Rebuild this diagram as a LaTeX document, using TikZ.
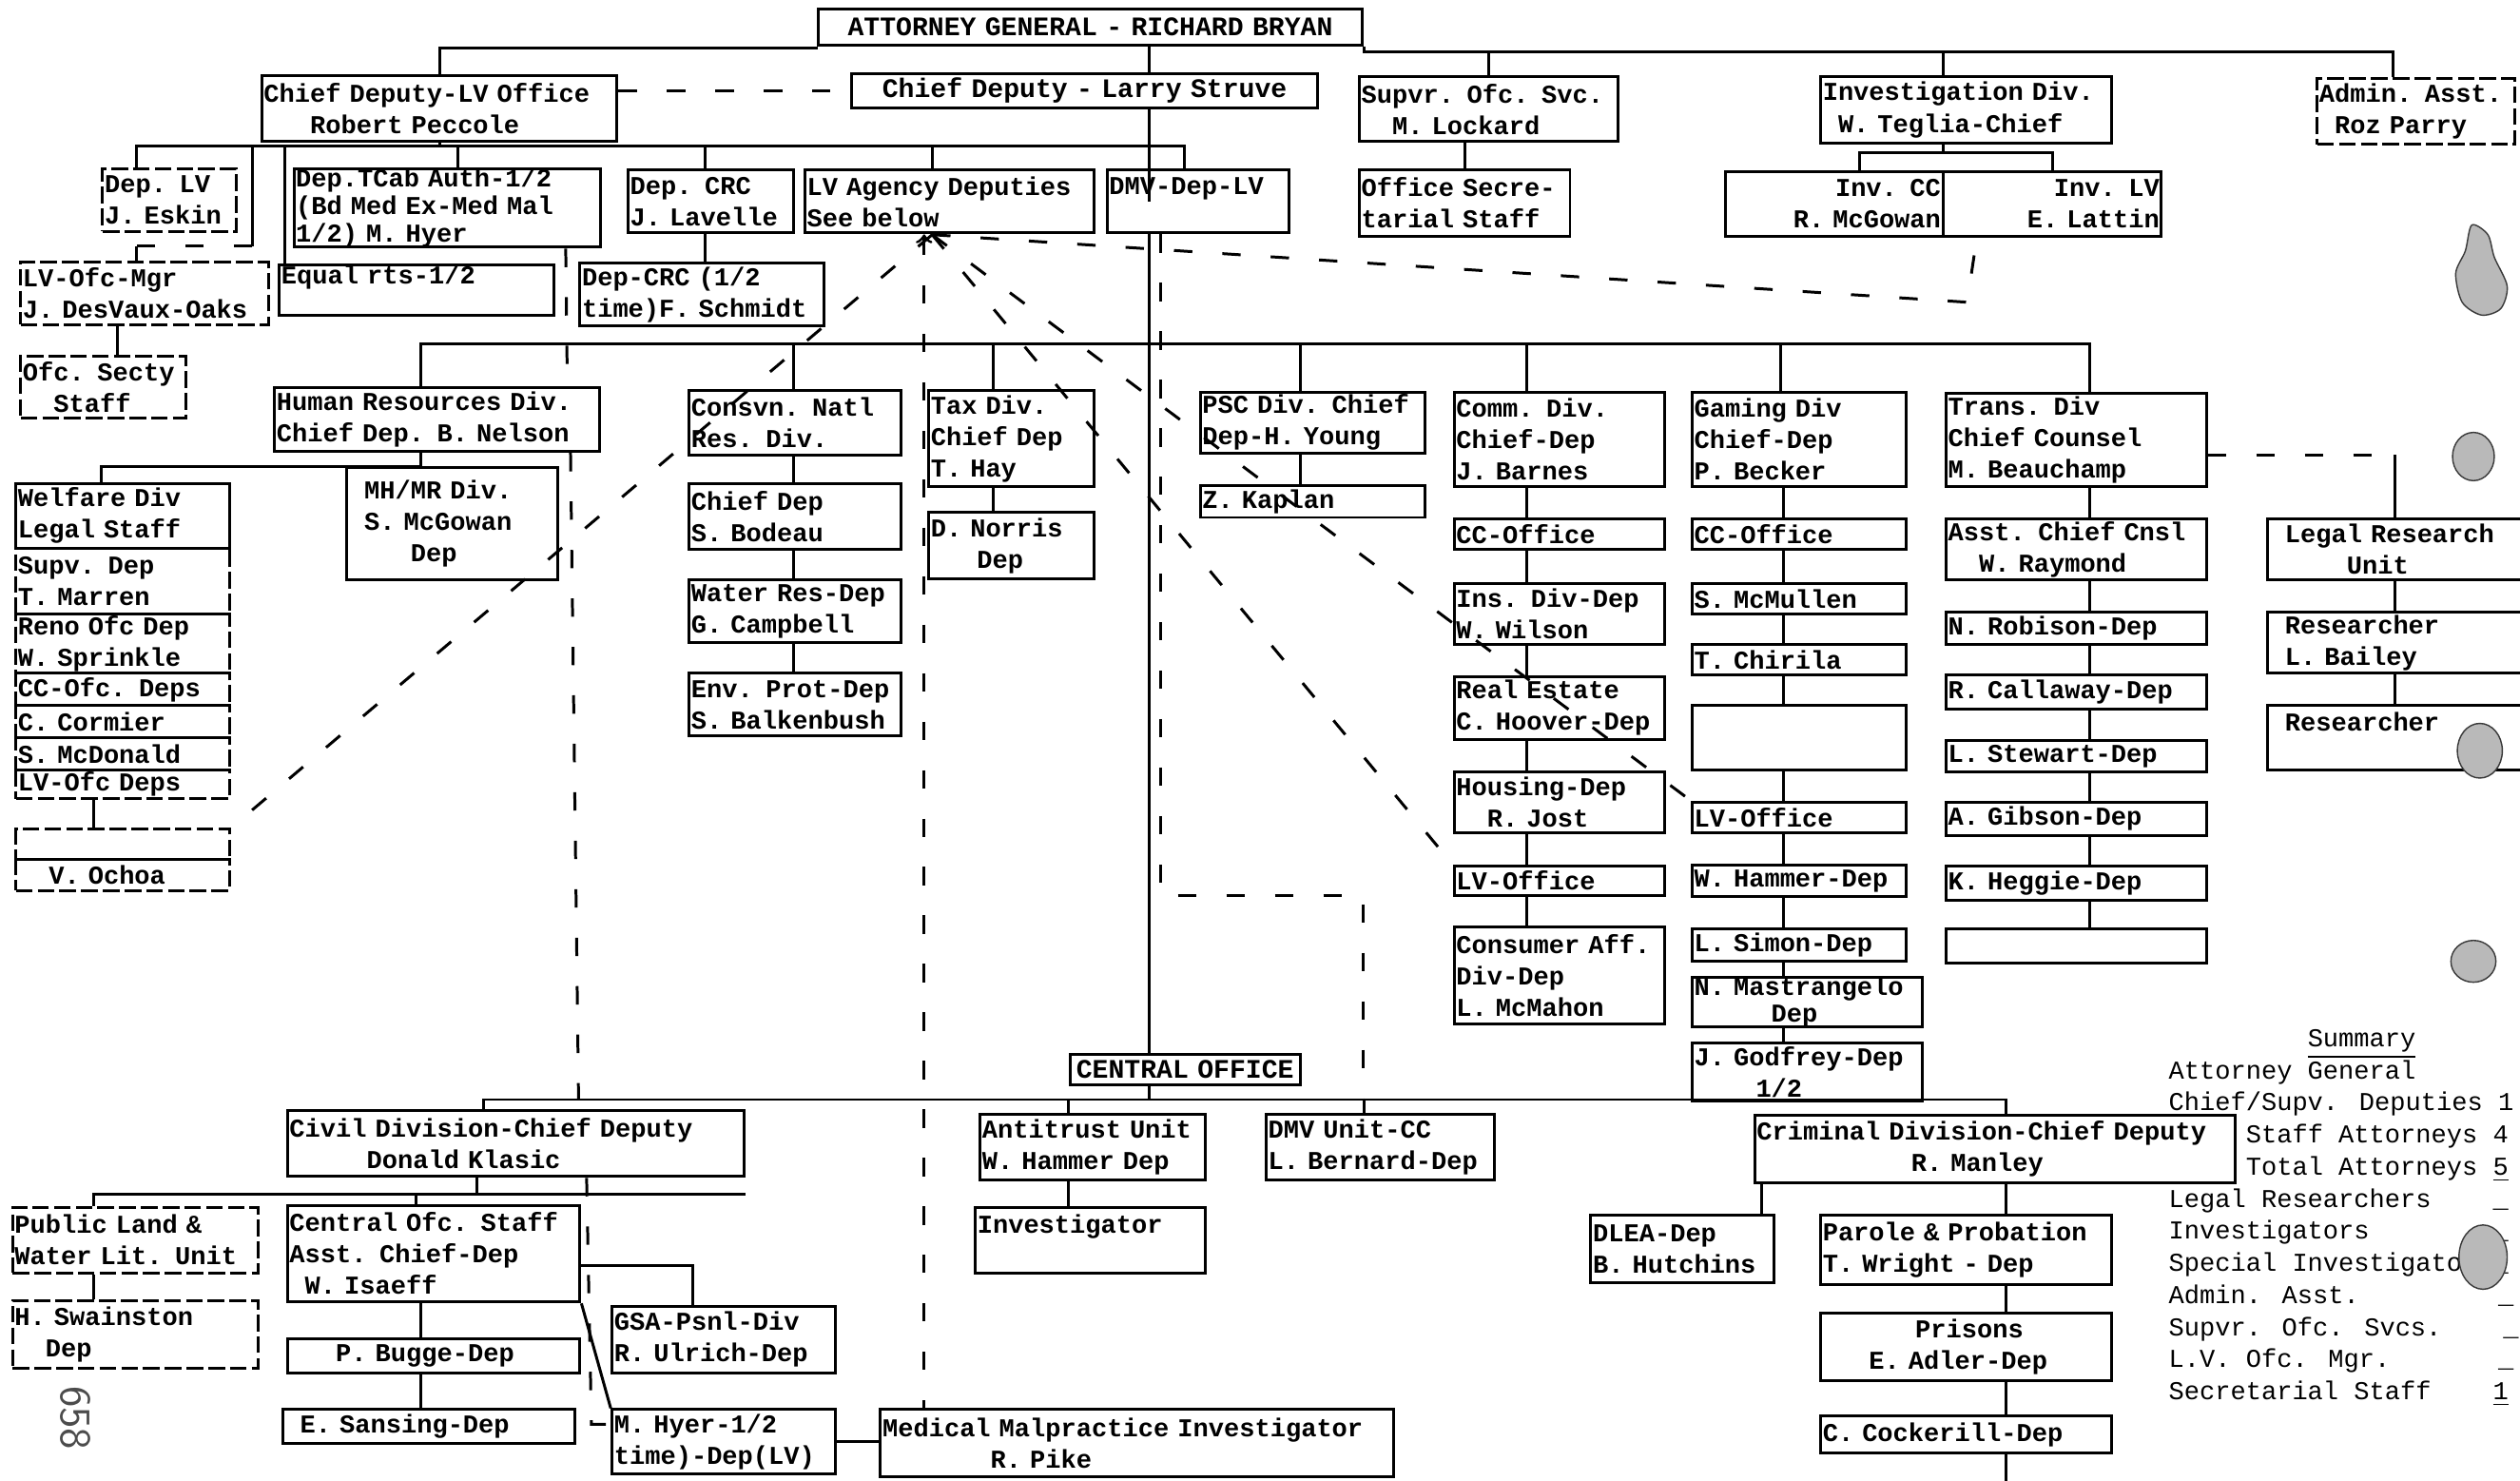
\documentclass[tikz,border=0pt]{standalone}
\usepackage{fontspec}
\newfontfamily\tw{Liberation Mono}
\newlength\pu \setlength\pu{0.169mm}
\newlength\bw \newlength\bwo \newlength\bh
\newcommand\twf{\tw\bfseries\fontsize{7.7}{9.4}\selectfont}
\newcommand\twt{\tw\bfseries\fontsize{7.7}{6.6}\selectfont}
\newcommand\twb{\tw\bfseries\fontsize{8}{9.4}\selectfont}
\newcommand\ind[1]{\hspace*{#1\dimexpr.6em\relax}}
\newcommand\ob[6][unit]{%
	\setlength\bw{#4\pu}\addtolength\bw{-1.2pt}%
	\setlength\bwo{#4\pu}\setlength\bh{#5\pu}%
	\node[#1, text width=\bw, minimum width=\bwo, minimum height=\bh] (#2) at (#3) {#6};}
\tikzstyle{unit}=[rectangle,
	draw=black,
	line width=0.85pt,
	anchor=north west,
	inner xsep=0.6pt,
	inner ysep=0pt,
	align=left,
	font=\twf]
\tikzstyle{dunit}=[unit,
	dash pattern=on 5pt off 1.5pt]
\tikzstyle{tight}=[font=\twt]
\tikzstyle{wide}=[font=\twb]
\tikzstyle{link}=[line width=0.85pt]
\tikzstyle{dlink}=[line width=0.85pt,
	dash pattern=on 5.5pt off 9pt]
\tikzstyle{blob}=[fill=gray!55,
	draw=gray!45!black,
	line width=0.4pt]

\begin{document}
\begin{tikzpicture}[x=0.169mm,y=-0.169mm]
	\path[fill=white,use as bounding box] (0,0) rectangle (1568,921);
	\coordinate (topl) at (0,30);
	\coordinate (topr) at (0,32);
	\coordinate (invbus) at (0,95);
	\coordinate (pecbus) at (0,91);
	\coordinate (divbus) at (0,214);
	\coordinate (cobus) at (0,684);
	\coordinate (civbus) at (0,743);

	% top row
	\ob[unit,wide,align=center]{ag}{508,5}{339}{22}{ATTORNEY GENERAL - RICHARD BRYAN}
	\ob[unit,wide,align=center]{struve}{529,45}{290}{21}{Chief Deputy - Larry Struve}
	\ob{pec}{162,46}{221}{41}{Chief Deputy-LV Office\\\ind{3}Robert Peccole}
	\ob{supvr}{845,47}{161}{40}{Supvr. Ofc. Svc.\\\ind{2}M. Lockard}
	\ob{ofcsec}{845,105}{131}{41}{Office Secre-\\tarial Staff}
	\ob{invest}{1132,47}{181}{41}{Investigation Div.\\\ind{1}W. Teglia-Chief}
	\ob[unit,align=right]{invcc}{1073,106}{135}{40}{Inv. CC\ind{1}\\R. McGowan\ind{1}}
	\ob[unit,align=right]{invlv}{1208,106}{136}{40}{Inv. LV\\E. Lattin\ind{1}}
	\ob[dunit]{admin}{1441,48}{123}{41}{Admin. Asst.\\\ind{1}Roz Parry}

	% Las Vegas office
	\ob[dunit]{deplv}{63,104}{83}{39}{Dep. LV\\J. Eskin}
	\ob[dunit]{lvmgr}{12,162}{154}{39}{LV-Ofc-Mgr\\J. DesVaux-Oaks}
	\ob[dunit]{ofcsecty}{12,221}{103}{38}{Ofc. Secty\\\ind{2}Staff}
	\ob[unit,tight]{tcab}{182,104}{191}{47}{Dep.TCab Auth-1/2\\(Bd Med Ex-Med Mal\\1/2) M. Hyer}
	\ob{equal}{173,164}{171}{31}{Equal rts-1/2\\\mbox{}}
	\ob{depcrc}{390,105}{103}{39}{Dep. CRC\\J. Lavelle}
	\ob{schmidt}{360,163}{152}{39}{Dep-CRC (1/2\\time)F. Schmidt}
	\ob{lvagency}{500,105}{180}{39}{LV Agency Deputies\\See below}
	\ob{dmvlv}{688,105}{113}{39}{DMV-Dep-LV\\\mbox{}}

	% divisions
	\ob{hr}{170,240}{202}{40}{Human Resources Div.\\Chief Dep. B. Nelson}
	\ob{mhmr}{215,290}{131}{70}{\ind{1}MH/MR Div.\\\ind{1}S. McGowan\\\ind{4}Dep}
	\ob{wf1}{9,300}{133}{40}{Welfare Div\\Legal Staff}
	\ob[dunit]{wf2}{9,340}{133}{41}{Supv. Dep\\T. Marren}
	\ob[dunit]{wf3}{9,381}{133}{37}{Reno Ofc Dep\\W. Sprinkle}
	\ob[dunit]{wf4}{9,418}{133}{20}{CC-Ofc. Deps}
	\ob[dunit]{wf5}{9,438}{133}{20}{C. Cormier}
	\ob[dunit]{wf6}{9,458}{133}{20}{S. McDonald}
	\ob[dunit]{wf7}{9,478}{133}{18}{LV-Ofc Deps}
	\ob[dunit]{ochoa}{9,515}{133}{19}{}
	\ob[dunit]{ochoab}{9,534}{133}{19}{\ind{2}V. Ochoa}

	\ob{consvn}{428,242}{132}{40}{Consvn. Natl\\Res. Div.}
	\ob{bodeau}{428,300}{132}{41}{Chief Dep\\S. Bodeau}
	\ob{water}{428,360}{132}{39}{Water Res-Dep\\G. Campbell}
	\ob{env}{428,418}{132}{39}{Env. Prot-Dep\\S. Balkenbush}
	\ob{tax}{577,242}{103}{60}{Tax Div.\\Chief Dep\\T. Hay}
	\ob{norris}{577,318}{103}{41}{D. Norris\\\ind{3}Dep}
	\ob{psc}{746,243}{140}{38}{PSC Div. Chief\\Dep-H. Young}
	\ob{kaplan}{746,301}{140}{20}{Z. Kaplan}

	\ob{comm}{904,243}{131}{59}{Comm. Div.\\Chief-Dep\\J. Barnes}
	\ob{ccoff}{904,322}{131}{19}{CC-Office}
	\ob{insdiv}{904,362}{131}{38}{Ins. Div-Dep\\W. Wilson}
	\ob{realest}{904,420}{131}{39}{Real Estate\\C. Hoover-Dep}
	\ob{housing}{904,479}{131}{38}{Housing-Dep\\\ind{2}R. Jost}
	\ob{comlv}{904,538}{131}{18}{LV-Office}
	\ob{consumer}{904,576}{131}{60}{Consumer Aff.\\Div-Dep\\L. McMahon}

	\ob{gaming}{1052,243}{133}{59}{Gaming Div\\Chief-Dep\\P. Becker}
	\ob{gcc}{1052,322}{133}{19}{CC-Office}
	\ob{mcmul}{1052,362}{133}{19}{S. McMullen}
	\ob{chirila}{1052,400}{133}{19}{T. Chirila}
	\ob{gempty}{1052,438}{133}{40}{}
	\ob{glv}{1052,498}{133}{19}{LV-Office}
	\ob{hammer}{1052,537}{133}{20}{W. Hammer-Dep}
	\ob{simon}{1052,577}{133}{20}{L. Simon-Dep}
	\ob[unit,tight]{mastr}{1052,607}{143}{30}{N. Mastrangelo\\\ind{5}Dep}
	\ob{godfrey}{1052,648}{143}{36}{J. Godfrey-Dep\\\ind{4}1/2}

	\ob{trans}{1210,244}{162}{58}{Trans. Div\\Chief Counsel\\M. Beauchamp}
	\ob{asst}{1210,322}{162}{38}{Asst. Chief Cnsl\\\ind{2}W. Raymond}
	\ob{robison}{1210,380}{162}{20}{N. Robison-Dep}
	\ob{callaway}{1210,419}{162}{21}{R. Callaway-Dep}
	\ob{stewart}{1210,460}{162}{19}{L. Stewart-Dep}
	\ob{gibson}{1210,498}{162}{21}{A. Gibson-Dep}
	\ob{heggie}{1210,538}{162}{21}{K. Heggie-Dep}
	\ob{tempty}{1210,577}{162}{21}{}
	\ob{legal}{1410,322}{160}{38}{\ind{1}Legal Research\\\ind{5}Unit}
	\ob{bailey}{1410,380}{160}{38}{\ind{1}Researcher\\\ind{1}L. Bailey}
	\ob{research}{1410,438}{160}{40}{\ind{1}Researcher\\\mbox{}}

	% central office
	\ob[unit,wide,align=center]{central}{665,655}{143}{19}{CENTRAL OFFICE}
	\ob{civil}{178,690}{284}{41}{Civil Division-Chief Deputy\\\ind{5}Donald Klasic}
	\ob[dunit]{publand}{7,750}{153}{41}{Public Land \&\\Water Lit. Unit}
	\ob[dunit]{swain}{7,808}{153}{42}{H. Swainston\\\ind{2}Dep}
	\ob{cstaff}{178,749}{182}{60}{Central Ofc. Staff\\Asst. Chief-Dep\\\ind{1}W. Isaeff}
	\ob{bugge}{178,832}{182}{21}{\ind{3}P. Bugge-Dep}
	\ob{sansing}{175,876}{182}{21}{\ind{1}E. Sansing-Dep}
	\ob{gsa}{380,812}{139}{41}{GSA-Psnl-Div\\R. Ulrich-Dep}
	\ob{hyer}{380,876}{139}{40}{M. Hyer-1/2\\time)-Dep(LV)}
	\ob{medmal}{547,876}{319}{42}{Medical Malpractice Investigator\\\ind{7}R. Pike}
	\ob{anti}{609,692}{140}{41}{Antitrust Unit\\W. Hammer Dep}
	\ob{invstg}{606,750}{143}{41}{Investigator\\\mbox{}}
	\ob{dmvcc}{787,692}{142}{41}{DMV Unit-CC\\L. Bernard-Dep}
	\ob{crim}{1091,693}{299}{42}{Criminal Division-Chief Deputy\\\ind{10}R. Manley}
	\ob{dlea}{989,755}{114}{42}{DLEA-Dep\\B. Hutchins}
	\ob{parole}{1132,755}{181}{43}{Parole \& Probation\\T. Wright - Dep}
	\ob{prisons}{1132,816}{181}{42}{\ind{6}Prisons\\\ind{3}E. Adler-Dep}
	\ob{cock}{1132,880}{181}{23}{C. Cockerill-Dep}

	% solid connectors
	\draw[link] (ag.south west) -- (ag.south west |- topl) -| (pec.north);
	\draw[link] (ag.south east) -- (ag.south east |- topr) -| (1489,0 |- admin.north);
	\draw[link] (supvr.north) -- (supvr.north |- topr);
	\draw[link] (1209,0 |- invest.north) -- (1209,0 |- topr);
	\draw[link] (715,0 |- ag.south) -- (715,0 |- struve.north);
	\draw[link] (ofcsec.north) -- (ofcsec.north |- supvr.south);
	\draw[link] (1209,0 |- invest.south) -- (1209,0 |- invbus);
	\draw[link] (1157,0 |- invcc.north) |- (invbus -| 1277,0) -- (1277,0 |- invlv.north);

	\draw[link] (pec.south) -- (pec.south |- pecbus);
	\draw[link] (85,0 |- deplv.north) |- (pecbus -| 737,0) -- (737,0 |- dmvlv.north);
	\foreach \nd/\x in {tcab/285, equal/177, depcrc/439, lvagency/580}
		\draw[link] (\x,0 |- pecbus) -- (\x,0 |- \nd.north);
	\coordinate (mgrbend) at (157,153);
	\draw[link] (pecbus -| mgrbend) -- (mgrbend);
	\draw[dlink] (mgrbend) -- (mgrbend -| 85,0);
	\draw[link] (mgrbend -| 85,0) -- (85,0 |- lvmgr.north);
	\draw[link] (73,0 |- lvmgr.south) -- (73,0 |- ofcsecty.north);
	\draw[link] (439,0 |- depcrc.south) -- (439,0 |- schmidt.north);

	\draw[link] (715,0 |- struve.south) -- (715,0 |- dmvlv.center);
	\draw[link] (715,0 |- dmvlv.south) -- (715,0 |- central.north);
	\draw[link] (715,0 |- central.south) -- (715,0 |- cobus);

	\draw[link] (262,0 |- hr.north) |- (divbus -| 1300,0) -- (1300,0 |- trans.north);
	\foreach \nd/\x in {consvn/494, tax/618, psc/809, comm/950, gaming/1108}
		\draw[link] (\x,0 |- divbus) -- (\x,0 |- \nd.north);
	\draw[link] (262,0 |- hr.south) -- (262,0 |- mhmr.north) -| (63,0 |- wf1.north);
	\draw[link] (58,0 |- wf7.south) -- (58,0 |- ochoa.north);

	\foreach \a/\b in {consvn/bodeau, bodeau/water, water/env}
		\draw[link] (494,0 |- \a.south) -- (494,0 |- \b.north);
	\draw[link] (618,0 |- tax.south) -- (618,0 |- norris.north);
	\draw[link] (809,0 |- psc.south) -- (809,0 |- kaplan.north);
	\foreach \a/\b in {comm/ccoff, ccoff/insdiv, insdiv/realest, realest/housing, housing/comlv, comlv/consumer}
		\draw[link] (950,0 |- \a.south) -- (950,0 |- \b.north);
	\foreach \a/\b in {gaming/gcc, gcc/mcmul, mcmul/chirila, chirila/gempty, gempty/glv, glv/hammer, hammer/simon, simon/mastr, mastr/godfrey}
		\draw[link] (1110,0 |- \a.south) -- (1110,0 |- \b.north);
	\foreach \a/\b in {trans/asst, asst/robison, robison/callaway, callaway/stewart, stewart/gibson, gibson/heggie, heggie/tempty}
		\draw[link] (1300,0 |- \a.south) -- (1300,0 |- \b.north);
	\foreach \a/\b in {legal/bailey, bailey/research}
		\draw[link] (1490,0 |- \a.south) -- (1490,0 |- \b.north);
	\coordinate (transj) at (1490,283);
	\draw[dlink] (trans.east |- transj) -- (transj);
	\draw[link] (transj) -- (transj |- legal.north);

	\draw[link] (301,0 |- civil.north) |- (cobus -| 1248,0) -- (1248,0 |- crim.north);
	\foreach \nd/\x in {anti/665, dmvcc/849}
		\draw[link] (\x,0 |- cobus) -- (\x,0 |- \nd.north);
	\draw[link] (297,0 |- civil.south) -- (297,0 |- civbus);
	\draw[link] (58,0 |- publand.north) |- (civbus -| civil.east);
	\draw[link] (259,0 |- civbus) -- (259,0 |- cstaff.north);
	\draw[link] (58,0 |- publand.south) -- (58,0 |- swain.north);
	\draw[link] (262,0 |- cstaff.south) -- (262,0 |- bugge.north);
	\draw[link] (262,0 |- bugge.south) -- (262,0 |- sansing.north);
	\coordinate (gsaj) at (431,787);
	\draw[link] (cstaff.east |- gsaj) -- (gsaj) -- (gsaj |- gsa.north);
	\draw[link] (cstaff.south east) -- (hyer.north west);
	\draw[link] (hyer.east) -- (hyer.east -| medmal.west);
	\draw[link] (665,0 |- anti.south) -- (665,0 |- invstg.north);
	\draw[link] (1096,0 |- crim.south) -- (1096,0 |- dlea.north);
	\foreach \a/\b in {crim/parole, parole/prisons, prisons/cock}
		\draw[link] (1248,0 |- \a.south) -- (1248,0 |- \b.north);
	\coordinate (offpage) at (1248,921);
	\draw[link] (1248,0 |- cock.south) -- (offpage);

	% dashed connectors
	\draw[dlink] (pec.east |- struve.west) -- (struve.west);
	\coordinate (apex) at (580,146);
	\draw[dlink] (apex) -- (ochoa.north east);
	\draw[dlink,<-] (575,0 |- lvagency.south) -- (575,0 |- medmal.north);
	\draw[dlink] (apex) -- (comlv.north west);
	\draw[dlink] (apex) -- (glv.north west);
	\coordinate (lvbend) at (1224,188);
	\draw[dlink] (apex) -- (lvbend) -- (1230,0 |- invlv.south);
	\coordinate (dmvj) at (848,557);
	\draw[dlink] (722,0 |- dmvlv.south) |- (dmvj) -- (dmvj |- cobus);
	\draw[dlink] (352,0 |- tcab.south) -- (353,0 |- hr.north);
	\draw[dlink] (355,0 |- hr.south) -- (360,0 |- cobus);
	\coordinate (hyerj) at (368,886);
	\draw[dlink] (365,0 |- civil.south) -- (hyerj) -- (hyerj -| hyer.west);

	% summary
	\node[anchor=north west, align=left, inner sep=0pt, font=\tw\fontsize{7.7}{9.6}\selectfont] (summary) at (1349,640) {%
		\ind{9}\underline{Summary}\\
		Attorney General\\
		Chief/Supv. Deputies 1\\
		\ind{5}Staff Attorneys 4\\
		\ind{5}Total Attorneys \underline{5}\\
		Legal Researchers\ind{4}\_\\
		Investigators\ind{8}\_\\
		Special Investigators\_\\
		Admin. Asst.\ind{9}\_\\
		Supvr. Ofc. Svcs.\ind{4}\_\\
		L.V. Ofc. Mgr.\ind{7}\_\\
		Secretarial Staff\ind{4}\underline{1}};

	% punch holes and page number
	\filldraw[blob] plot[smooth cycle] coordinates {(1538,140) (1548,146) (1552,160) (1560,178) (1556,192) (1544,196) (1532,188) (1528,170) (1534,156)};
	\filldraw[blob] (1539,284) ellipse [x radius=13, y radius=15];
	\filldraw[blob] (1543,467) ellipse [x radius=14, y radius=17];
	\filldraw[blob] (1539,598) ellipse [x radius=14, y radius=13];
	\filldraw[blob] (1545,782) ellipse [x radius=15, y radius=20];
	\node[rotate=-90, text=gray!60!black, font=\sffamily\fontsize{13}{13}\selectfont] (pagenum) at (47,882) {658};
\end{tikzpicture}
\end{document}
